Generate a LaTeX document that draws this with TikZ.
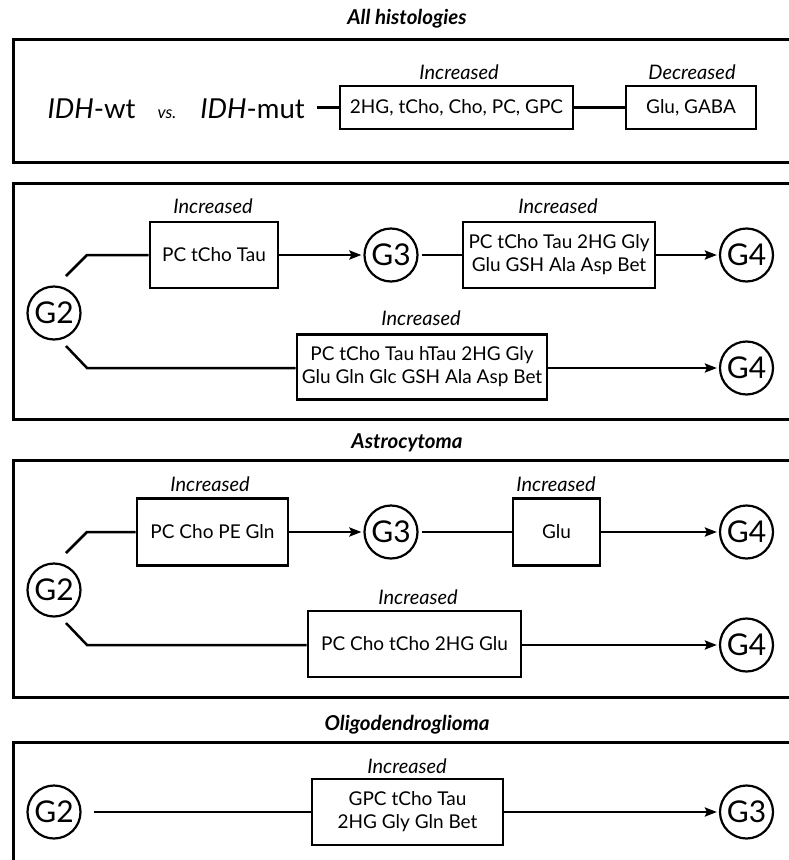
\documentclass[tikz,border=0pt]{standalone}
\usepackage{fontspec}
\setmainfont{Lato}
\usetikzlibrary{arrows.meta}
\begin{document}
\begin{tikzpicture}[x=1pt,y=-1pt,
  panel/.style={draw, line width=3pt},
  mbox/.style={draw, line width=2.6pt, inner sep=0pt, align=center,
    font=\fontsize{19}{23}\selectfont},
  grade/.style={draw, circle, line width=2.2pt, minimum size=53pt, inner sep=0pt,
    font=\fontsize{30}{30}\selectfont},
  lab/.style={inner sep=0pt, font=\fontsize{20}{22}\selectfont\itshape},
  ttl/.style={inner sep=0pt, font=\fontsize{20.5}{22}\selectfont\bfseries\itshape},
  big/.style={inner sep=0pt, anchor=base, font=\fontsize{27.5}{28}\selectfont},
  conn/.style={line width=2.5pt},
  arr/.style={line width=2.5pt, -{Stealth[length=12pt,width=9pt,inset=2pt]}, shorten >=2pt}
]
\useasboundingbox (0,0) rectangle (789,860);
\clip (0,0) rectangle (789,860);

% ---------- Panel 1 ----------
\node[ttl] (t1) at (407,19) {All histologies};
\draw[panel] (13,39) rectangle (830,162);
\node[big] (wt) at (91.5,118) {\textit{IDH}-wt};
\node[inner sep=0pt, anchor=base, font=\fontsize{17}{17}\selectfont\itshape] (vs) at (167,118) {vs.};
\node[big] (mut) at (252.5,118) {\textit{IDH}-mut};
\coordinate (m1) at (317,107.5);
\node[mbox, minimum width=233pt, minimum height=43pt] (inc1) at (456.5,107.5) {2HG, tCho, Cho, PC, GPC};
\node[mbox, minimum width=130pt, minimum height=43pt] (dec1) at (691,107.5) {Glu, GABA};
\node[lab] (l1a) at (459,72) {Increased};
\node[lab] (l1b) at (692,72) {Decreased};
\draw[conn] (m1) -- (inc1.west);
\draw[conn] (inc1.east) -- (dec1.west);

% ---------- Panel 2 ----------
\draw[panel] (13,183) rectangle (830,419);
\node[grade] (p2g2) at (54,313) {G2};
\node[mbox, minimum width=128pt, minimum height=66pt] (p2b1) at (214,255) {PC tCho Tau};
\node[lab] (p2l1) at (213,206) {Increased};
\node[grade] (p2g3) at (391,255) {G3};
\node[mbox, minimum width=192pt, minimum height=66pt] (p2b2) at (559,255) {PC tCho Tau 2HG Gly\\Glu GSH Ala Asp Bet};
\node[lab] (p2l2) at (558,206) {Increased};
\node[grade] (p2g4a) at (746.5,255) {G4};
\node[mbox, minimum width=250pt, minimum height=65pt] (p2b3) at (422,367) {PC tCho Tau hTau 2HG Gly\\Glu Gln Glc GSH Ala Asp Bet};
\node[lab] (p2l3) at (421,318) {Increased};
\node[grade] (p2g4b) at (746.5,368) {G4};
\coordinate (p2us) at (66,276);
\coordinate (p2uk) at (87,255);
\coordinate (p2ls) at (66,346);
\coordinate (p2lk) at (87,368);
\draw[conn] (p2us) -- (p2uk) -- (p2b1.west);
\draw[arr] (p2b1.east) -- (p2g3);
\draw[conn] (p2g3.east) ++(3,0) -- (p2b2.west);
\draw[arr] (p2b2.east) -- (p2g4a);
\draw[conn] (p2ls) -- (p2lk) -- (p2lk -| p2b3.west);
\draw[arr] (p2lk -| p2b3.east) -- (p2g4b);

% ---------- Panel 3 ----------
\node[ttl] (t3) at (407,443) {Astrocytoma};
\draw[panel] (13,460) rectangle (830,697);
\node[grade] (p3g2) at (54,590) {G2};
\node[mbox, minimum width=151pt, minimum height=67pt] (p3b1) at (212.5,532) {PC Cho PE Gln};
\node[lab] (p3l1) at (210,484) {Increased};
\node[grade] (p3g3) at (391,532) {G3};
\node[mbox, minimum width=87pt, minimum height=67pt] (p3b2) at (556.5,532) {Glu};
\node[lab] (p3l2) at (556,484) {Increased};
\node[grade] (p3g4a) at (746.5,532) {G4};
\node[mbox, minimum width=213pt, minimum height=66pt] (p3b3) at (414.5,644) {PC Cho tCho 2HG Glu};
\node[lab] (p3l3) at (418,597) {Increased};
\node[grade] (p3g4b) at (746.5,645) {G4};
\coordinate (p3us) at (66,553);
\coordinate (p3uk) at (87,532);
\coordinate (p3ls) at (66,623);
\coordinate (p3lk) at (87,645);
\draw[conn] (p3us) -- (p3uk) -- (p3b1.west);
\draw[arr] (p3b1.east) -- (p3g3);
\draw[conn] (p3g3.east) ++(3,0) -- (p3b2.west);
\draw[arr] (p3b2.east) -- (p3g4a);
\draw[conn] (p3ls) -- (p3lk) -- (p3lk -| p3b3.west);
\draw[arr] (p3lk -| p3b3.east) -- (p3g4b);

% ---------- Panel 4 ----------
\node[ttl] (t4) at (407,725) {Oligodendroglioma};
\draw[panel] (13,742) rectangle (830,900);
\node[grade] (p4g2) at (54,812) {G2};
\node[mbox, minimum width=191pt, minimum height=66pt] (p4b1) at (407.5,812) {GPC tCho Tau\\2HG Gly Gln Bet};
\node[lab] (p4l1) at (407,766) {Increased};
\node[grade] (p4g3) at (746.5,812) {G3};
\draw[conn] (p4g2.east) ++(12,0) -- (p4b1.west);
\draw[arr] (p4b1.east) -- (p4g3);
\end{tikzpicture}
\end{document}
